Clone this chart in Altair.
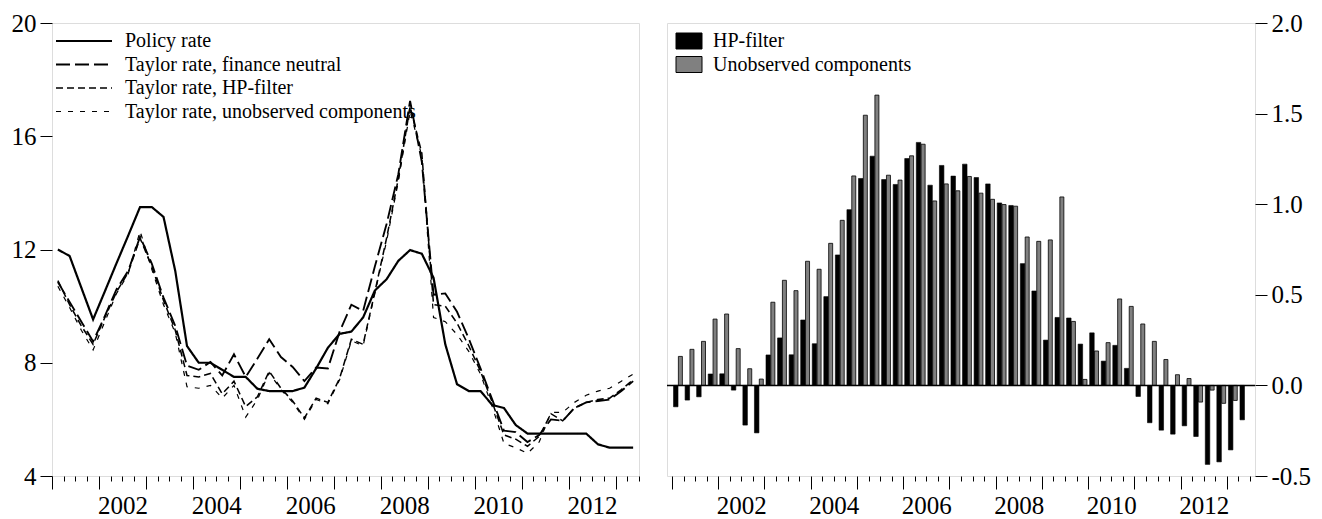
import altair as alt
import pandas as pd

# ---------------- data ----------------
periods = [f"{y}Q{q}" for y in range(2001, 2014) for q in range(1, 5)][:50]

policy_rate = [12.0, 11.77, 10.65, 9.53, 10.52, 11.52, 12.5, 13.5, 13.5, 13.15,
               11.24, 8.59, 8.0, 8.0, 7.75, 7.5, 7.5, 7.08, 7.0, 7.0,
               7.0, 7.12, 7.8, 8.53, 9.02, 9.1, 9.6, 10.55, 10.95, 11.6,
               11.98, 11.85, 11.0, 8.65, 7.24, 7.0, 7.0, 6.51, 6.4, 5.8,
               5.5, 5.5, 5.5, 5.5, 5.5, 5.5, 5.12, 5.0, 5.0, 5.0]

taylor_fn = [10.85, 10.15, 9.45, 8.75, 9.65, 10.6, 11.25, 12.45, 11.5, 10.3,
             9.3, 7.9, 7.75, 8.03, 7.55, 8.3, 7.5, 8.15, 8.83, 8.2,
             7.85, 7.35, 7.83, 7.8, 9.1, 10.05, 9.83, 11.4, 12.9, 14.66,
             17.25, 15.1, 10.4, 10.45, 9.8, 8.85, 7.8, 6.7, 5.6, 5.55,
             5.2, 5.45, 6.0, 5.95, 6.4, 6.6, 6.65, 6.7, 7.0, 7.35]

taylor_hp = [10.9, 10.05, 9.3, 8.65, 9.6, 10.5, 11.2, 12.4, 11.4, 10.2,
             9.15, 7.55, 7.5, 7.62, 6.9, 7.35, 6.45, 6.8, 7.7, 7.1,
             6.65, 6.05, 6.75, 6.6, 7.45, 8.83, 8.65, 10.5, 12.4, 14.5,
             17.05, 15.4, 10.05, 10.0, 9.4, 8.6, 7.7, 6.6, 5.45, 5.3,
             5.05, 5.4, 6.2, 5.95, 6.4, 6.6, 6.7, 6.75, 7.05, 7.4]

taylor_uc = [10.7, 9.95, 9.15, 8.45, 9.45, 10.45, 11.15, 12.65, 11.3, 10.05,
             9.05, 7.15, 7.1, 7.2, 6.75, 7.2, 6.08, 6.7, 7.65, 7.05,
             6.6, 6.0, 6.7, 6.55, 7.4, 8.78, 8.6, 10.45, 12.3, 14.4,
             16.9, 15.3, 9.6, 9.45, 9.0, 8.4, 7.6, 6.45, 5.15, 5.0,
             4.8, 5.2, 6.25, 6.25, 6.6, 6.85, 7.0, 7.1, 7.35, 7.6]

gap_hp = [-0.118, -0.081, -0.063, 0.063, 0.064, -0.026, -0.219, -0.262, 0.168, 0.262,
          0.169, 0.361, 0.23, 0.49, 0.72, 0.97, 1.142, 1.265, 1.136, 1.109,
          1.252, 1.341, 1.105, 1.214, 1.155, 1.221, 1.147, 1.112, 1.007, 0.993,
          0.672, 0.521, 0.25, 0.375, 0.372, 0.228, 0.29, 0.134, 0.221, 0.094,
          -0.061, -0.206, -0.247, -0.269, -0.223, -0.282, -0.436, -0.422, -0.356, -0.19]

gap_uc = [0.16, 0.199, 0.243, 0.366, 0.394, 0.203, 0.092, 0.035, 0.459, 0.58,
          0.523, 0.685, 0.641, 0.784, 0.911, 1.156, 1.491, 1.602, 1.16, 1.133,
          1.267, 1.331, 1.018, 1.112, 1.074, 1.153, 1.061, 1.027, 0.998, 0.989,
          0.819, 0.795, 0.803, 1.04, 0.353, 0.033, 0.19, 0.236, 0.477, 0.436,
          0.339, 0.243, 0.143, 0.059, 0.038, -0.092, -0.026, -0.099, -0.083, None]

line_names = ["Policy rate", "Taylor rate, finance neutral",
              "Taylor rate, HP-filter", "Taylor rate, unobserved components"]
bar_names = ["HP-filter", "Unobserved components"]

left_ticks = [4, 8, 12, 16, 20]
right_ticks = [-0.5, 0.0, 0.5, 1.0, 1.5, 2.0]

# ---------------- tables ----------------
def period_pos(p):
    y, q = p.split("Q")
    return int(y) + (int(q) - 1) / 4 + 0.125

t = [period_pos(p) for p in periods]

rows = []
for name, vals in zip(line_names, [policy_rate, taylor_fn, taylor_hp, taylor_uc]):
    for p, tt, v in zip(periods, t, vals):
        rows.append({"period": p, "t": tt, "series": name, "value": v})
line_df = pd.DataFrame(rows)

rows = []
for name, vals in zip(bar_names, [gap_hp, gap_uc]):
    for p, tt, v in zip(periods, t, vals):
        if v is not None:
            rows.append({"period": p, "t": tt, "series": name, "value": v})
bar_df = pd.DataFrame(rows)

# ---------------- styling ----------------
FONT = "Liberation Serif"
AX = 25
quarter_bounds = [2001 + k / 4 for k in range(51)]

x_axis = alt.Axis(
    values=quarter_bounds,
    labelExpr="datum.value % 2 === 0.5 ? format(floor(datum.value), 'd') : ''",
    tickSize={"condition": {"test": "datum.value % 1 === 0", "value": 13}, "value": 5},
    tickColor="black", tickWidth=1, domain=False, grid=False, title=None,
    labelFont=FONT, labelFontSize=AX, labelColor="black", labelPadding=12,
    labelOverlap=False, labelFlush=False, labelBound=False,
)
x_enc = alt.X("t:Q", scale=alt.Scale(domain=[2001, 2013.5], nice=False, zero=False),
              axis=x_axis, title=None)

left_leg = alt.Legend(
    title=None, orient="none", legendX=22, legendY=8, padding=0,
    symbolType="M-3.5,0H3.5", symbolSize=256, labelOffset=31, labelLimit=0,
    labelFont=FONT, labelFontSize=20, labelColor="black", rowPadding=3.5,
    symbolFillColor="transparent",
)

lines = alt.Chart(line_df).mark_line().encode(
    x=x_enc,
    y=alt.Y("value:Q", scale=alt.Scale(domain=[4, 20], nice=False, zero=False),
            axis=alt.Axis(values=left_ticks, tickSize=12, tickColor="black", domain=False,
                          grid=False, labelFont=FONT, labelFontSize=AX, labelColor="black",
                          labelPadding=4), title=None),
    color=alt.Color("series:N", scale=alt.Scale(domain=line_names, range=["black"] * 4),
                    legend=left_leg),
    strokeDash=alt.StrokeDash("series:N",
                              scale=alt.Scale(domain=line_names,
                                              range=[[1, 0], [14, 5], [7, 4], [5, 7]]),
                              legend=left_leg),
    strokeWidth=alt.StrokeWidth("series:N",
                                scale=alt.Scale(domain=line_names, range=[2.2, 1.2, 1.2, 1.2]),
                                legend=left_leg),
).properties(width=587, height=453)

right_leg = alt.Legend(
    title=None, orient="none", legendX=12, legendY=8, padding=0,
    symbolType="M-1.625,-1H1.625V1H-1.625Z", symbolSize=256, labelOffset=14, labelLimit=0,
    symbolStrokeColor="black", symbolStrokeWidth=1,
    labelFont=FONT, labelFontSize=20, labelColor="black", rowPadding=3.5,
)

y_right = alt.Y("value:Q", scale=alt.Scale(domain=[-0.5, 2.0], nice=False, zero=False),
                axis=alt.Axis(values=right_ticks, orient="right", tickSize=12, tickColor="black",
                              domain=False, grid=False, labelFont=FONT, labelFontSize=AX,
                              labelColor="black", labelPadding=4,
                              labelExpr="datum.value < 0 ? '-' + format(abs(datum.value), '.1f') : format(datum.value, '.1f')"),
                title=None)
fill_enc = alt.Fill("series:N", scale=alt.Scale(domain=bar_names, range=["black", "#808080"]),
                    legend=right_leg)

bars_hp = alt.Chart(bar_df).transform_filter(alt.datum.series == bar_names[0]).mark_bar(
    width=4.5, xOffset=-2, stroke="black", strokeWidth=0.6).encode(x=x_enc, y=y_right, fill=fill_enc)
bars_uc = alt.Chart(bar_df).transform_filter(alt.datum.series == bar_names[1]).mark_bar(
    width=4, xOffset=2.6, stroke="black", strokeWidth=0.8).encode(x=x_enc, y=y_right, fill=fill_enc)
zero_line = alt.Chart(pd.DataFrame({"zero": [0.0]})).mark_rule(color="black", strokeWidth=1.5).encode(
    y=alt.Y("zero:Q"))

right = alt.layer(bars_hp, bars_uc, zero_line).properties(width=588, height=453)

chart = alt.hconcat(lines, right, spacing=25).resolve_scale(
    color="independent", strokeDash="independent", strokeWidth="independent", fill="independent"
).resolve_legend(
    color="independent", strokeDash="independent", strokeWidth="independent", fill="independent"
).configure_view(
    stroke="black", strokeWidth=1.5
).configure(background="white", padding={"left": 10, "top": 10, "right": 5, "bottom": 0})

chart.save("out.html", embed_options={"renderer": "svg", "actions": False})
